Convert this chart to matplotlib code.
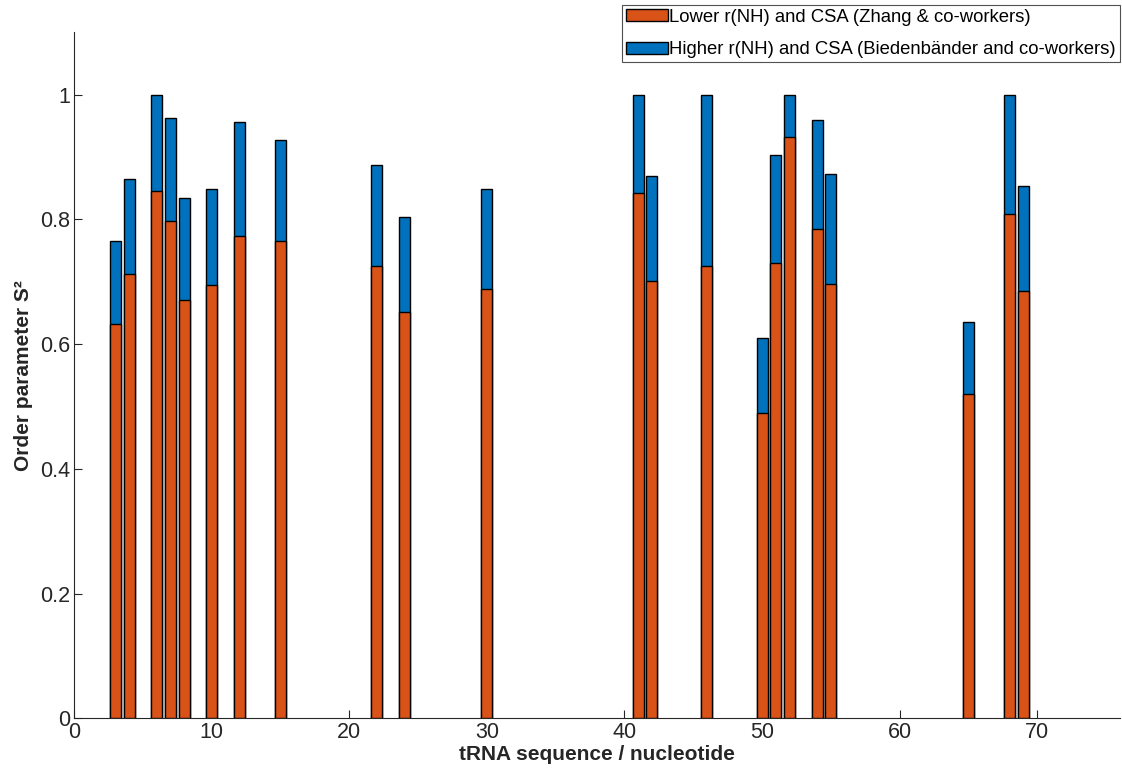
import matplotlib.pyplot as plt
from matplotlib.ticker import FuncFormatter

plt.rcParams['font.family'] = ['Liberation Sans', 'DejaVu Sans']

# nucleotide positions and order parameters
nucleotide = [3, 4, 6, 7, 8, 10, 12, 15, 22, 24, 30, 41, 42, 46, 50, 51, 52, 54, 55, 65, 68, 69]
s2_lower = [0.632, 0.712, 0.845, 0.798, 0.670, 0.695, 0.773, 0.765, 0.726, 0.651, 0.689,
            0.843, 0.701, 0.725, 0.490, 0.730, 0.932, 0.784, 0.697, 0.520, 0.808, 0.685]
s2_higher = [0.765, 0.864, 1.0, 0.962, 0.834, 0.848, 0.956, 0.927, 0.887, 0.804, 0.849,
             1.0, 0.870, 1.0, 0.609, 0.904, 1.0, 0.960, 0.873, 0.635, 1.0, 0.854]

color_lower = '#D95319'
color_higher = '#0072BD'

fig = plt.figure(figsize=(11.22, 7.69), dpi=100)
ax = fig.add_axes([0.066, 0.066, 0.932, 0.892])

ax.bar(nucleotide, s2_higher, width=0.8, color=color_higher, edgecolor='black',
       linewidth=1.0, label='Higher r(NH) and CSA (Biedenbänder and co-workers)', zorder=2)
ax.bar(nucleotide, s2_lower, width=0.8, color=color_lower, edgecolor='black',
       linewidth=1.0, label='Lower r(NH) and CSA (Zhang & co-workers)', zorder=3)

ax.set_xlim(0, 76)
ax.set_ylim(0, 1.1)
ax.set_xticks(range(0, 80, 10))
ax.set_yticks([0, 0.2, 0.4, 0.6, 0.8, 1.0])
ax.yaxis.set_major_formatter(FuncFormatter(lambda v, p: '{:g}'.format(round(v, 1))))

ax.spines['top'].set_visible(False)
ax.spines['right'].set_visible(False)
for s in ['left', 'bottom']:
    ax.spines[s].set_color('#262626')
    ax.spines[s].set_linewidth(0.8)
ax.tick_params(direction='in', length=6, width=0.8, color='#262626',
               labelsize=15.5, labelcolor='#262626', pad=3)

ax.set_xlabel('tRNA sequence / nucleotide', fontsize=15, fontweight='bold',
              color='#262626', labelpad=1)
ax.set_ylabel('Order parameter S²', fontsize=15, fontweight='bold',
              color='#262626', labelpad=5)

handles, labels = ax.get_legend_handles_labels()
leg = fig.legend(handles[::-1], labels[::-1], loc='upper right',
                 bbox_to_anchor=(0.998, 0.994), fontsize=13.3, frameon=True,
                 fancybox=False, edgecolor='#262626', handlelength=2.3,
                 handleheight=0.65, handletextpad=0.05, borderpad=0.22,
                 labelspacing=0.84, borderaxespad=0.0)
leg.get_frame().set_linewidth(0.8)

fig.savefig('out.png', dpi=100)
